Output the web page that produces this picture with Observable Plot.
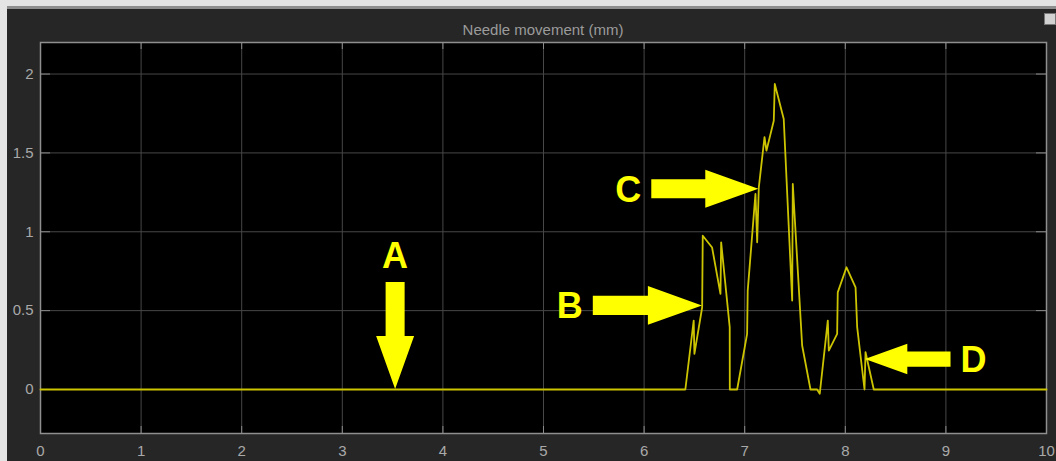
<!DOCTYPE html>
<html>
<head>
<meta charset="utf-8">
<script src="https://cdn.jsdelivr.net/npm/d3@7"></script>
<script src="https://cdn.jsdelivr.net/npm/@observablehq/plot@0.6"></script>
<style>
  html, body { margin: 0; padding: 0; background: #262626; width: 1056px; height: 461px; overflow: hidden; }
  #topstrip { position: absolute; left: 0; top: 0; width: 1056px; height: 6px; background: #e4e4e4; border-bottom: 3px solid #8e8e8e; z-index: 3; }
  #leftstrip { position: absolute; left: 0; top: 0; width: 7px; height: 461px; background: #e4e4e4; z-index: 3; }
  #title { position: absolute; left: 40px; width: 1006px; top: 21px; text-align: center;
           font: 15px "Liberation Sans", Arial, sans-serif; color: #9b9b9b; z-index: 2; }
  #icon { position: absolute; left: 1044px; top: 13px; width: 10px; height: 10px; background: #d2d2d2;
          border: 1px solid #777; z-index: 2; }
  #chart { position: absolute; left: 0; top: 36px; }
</style>
</head>
<body>
<div id="topstrip"></div>
<div id="leftstrip"></div>
<div id="title">Needle movement (mm)</div>
<div id="icon"></div>
<div id="chart"></div>
<script>
// ---- data ----
const time = [0, 6.41, 6.493, 6.50, 6.577, 6.583, 6.676, 6.759, 6.766, 6.851, 6.852, 6.925,
  7.024, 7.03, 7.107, 7.124, 7.14, 7.197, 7.216, 7.289, 7.299, 7.388, 7.472, 7.478, 7.571,
  7.654, 7.72, 7.746, 7.826, 7.836, 7.919, 7.925, 8.012, 8.102, 8.118, 8.191, 8.201, 8.283, 10];
const needle = [0, 0, 0.437, 0.226, 0.52, 0.975, 0.90, 0.606, 0.933, 0.395, 0, 0,
  0.353, 0.627, 1.24, 0.933, 1.28, 1.60, 1.514, 1.704, 1.937, 1.715, 0.564, 1.303, 0.279,
  0, 0, -0.027, 0.437, 0.247, 0.353, 0.616, 0.775, 0.648, 0.395, 0, 0.236, 0, 0];
const xTicks = [0, 1, 2, 3, 4, 5, 6, 7, 8, 9, 10];
const yTicks = [0, 0.5, 1, 1.5, 2];
const yDomain = [-0.279, 2.2];

// annotations (arrow tips in data units)
const annoLabels = ["A", "B", "C", "D"];
const annoX = [3.53, 6.58, 7.14, 8.20];
const annoY = [0, 0.53, 1.27, 0.19];
const annoDir = ["down", "right", "right", "left"];

// ---- styles ----
const arrowScale = { A: 1, B: 1.02, C: 1, D: 0.8 };
const arrowColor = "#ffff00";

const series = time.map((t, i) => ({ t, v: needle[i] }));

const W = 1056, H = 425, mT = 6, mB = 28, mL = 40, mR = 10;
const innerW = W - mL - mR, innerH = H - mT - mB;

function arrowMark(index, scales) {
  const g = d3.create("svg:g");
  annoLabels.forEach((lab, i) => {
    const px = scales.x(annoX[i]), py = scales.y(annoY[i]);
    const k = arrowScale[lab];
    const shaft = 54 * k, head = 53 * k, sw = 19 * k, hw = 38 * k;
    const L = shaft + head;
    const pts = [[0, 0], [-head, -hw / 2], [-head, -sw / 2], [-L, -sw / 2], [-L, sw / 2], [-head, sw / 2], [-head, hw / 2]];
    const ang = { right: 0, down: 90, left: 180, up: -90 }[annoDir[i]];
    g.append("polygon")
      .attr("points", pts.map(p => p.join(",")).join(" "))
      .attr("transform", `translate(${px},${py}) rotate(${ang})`)
      .attr("fill", arrowColor);
    const vertical = annoDir[i] === "down" || annoDir[i] === "up";
    const d = L + (vertical ? 27 : 23);
    const rad = ang * Math.PI / 180;
    const lx = px - d * Math.cos(rad), ly = py - d * Math.sin(rad);
    g.append("text")
      .attr("x", lx).attr("y", ly + 12.9)
      .attr("text-anchor", "middle")
      .attr("font-family", "'Liberation Sans', Arial, sans-serif")
      .attr("font-weight", "bold")
      .attr("font-size", 36)
      .attr("fill", arrowColor)
      .text(lab);
  });
  return g.node();
}

const chart = Plot.plot({
  width: W, height: H,
  marginTop: mT, marginBottom: mB, marginLeft: mL, marginRight: mR,
  style: { background: "transparent", color: "#a9a9a9", fontSize: "15px",
           fontFamily: "'Liberation Sans', Arial, sans-serif" },
  x: { domain: [0, 10], label: null },
  y: { domain: yDomain, label: null },
  marks: [
    Plot.frame({ fill: "#000000", stroke: null }),
    Plot.gridX(xTicks, { stroke: "#474747", strokeOpacity: 1, strokeWidth: 1 }),
    Plot.gridY(yTicks, { stroke: "#474747", strokeOpacity: 1, strokeWidth: 1 }),
    // inward tick marks
    Plot.ruleX(xTicks, { x: d => d, insetTop: innerH - 7, stroke: "#8a8a8a" }),
    Plot.ruleX(xTicks, { x: d => d, insetBottom: innerH - 7, stroke: "#8a8a8a" }),
    Plot.ruleY(yTicks, { y: d => d, insetRight: innerW - 10, stroke: "#8a8a8a" }),
    Plot.ruleY(yTicks, { y: d => d, insetLeft: innerW - 10, stroke: "#8a8a8a" }),
    Plot.frame({ stroke: "#8f8f8f", strokeWidth: 1.5 }),
    Plot.axisX(xTicks, { tickSize: 0, tickPadding: 12, fontSize: 15, tickFormat: d => String(d), fill: "#a9a9a9" }),
    Plot.axisY(yTicks, { tickSize: 0, tickPadding: 7, fontSize: 15, tickFormat: d => String(d), fill: "#a9a9a9" }),
    Plot.line(series, { x: "t", y: "v", stroke: "#cdc400", strokeWidth: 1.8 }),
    arrowMark
  ]
});
document.getElementById("chart").appendChild(chart);
</script>
</body>
</html>
